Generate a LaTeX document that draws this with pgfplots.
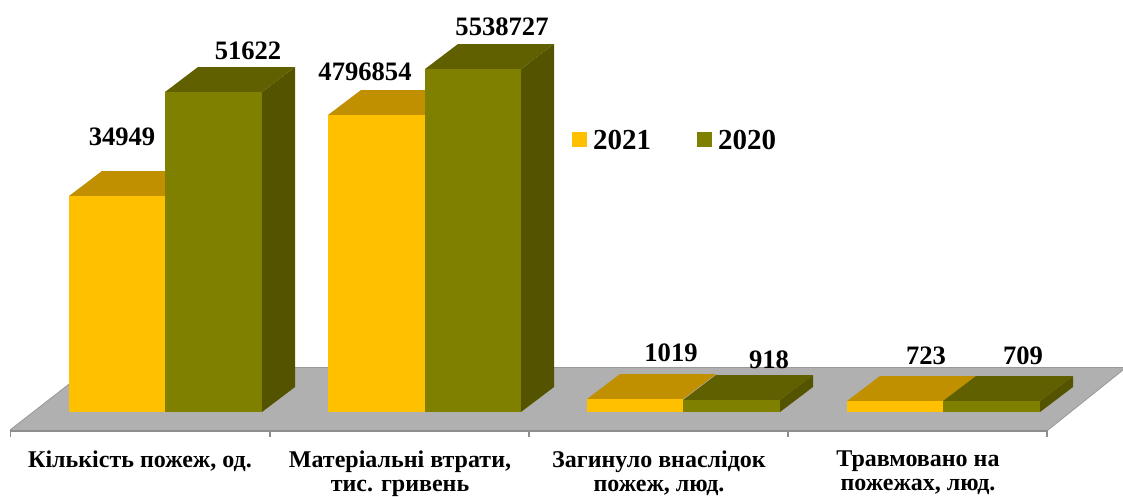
\documentclass[border=0pt]{standalone}
\usepackage{pgfplots}
\pgfplotsset{compat=1.18}
\usepackage{fontspec}
\setmainfont{Liberation Serif}
\definecolor{yfront}{HTML}{FFC000}
\definecolor{ytop}{HTML}{C09000}
\definecolor{ofront}{HTML}{808000}
\definecolor{otop}{HTML}{606000}
\definecolor{oside}{HTML}{545400}
\definecolor{floorc}{HTML}{B0B0B0}
\definecolor{axisc}{HTML}{8E8E8E}
\newcommand\face[2]{\addplot[fill=#1,draw=none,forget plot] coordinates {#2} --cycle;}
\begin{document}
\begin{tikzpicture}
\begin{axis}[
  scale only axis, width=1123pt, height=496pt,
  xmin=0, xmax=1123, ymin=0, ymax=496, y dir=reverse,
  hide axis, clip=true]
\path (axis cs:0,0) rectangle (axis cs:1123,496);
% floor
\face{floorc}{(10,430) (91,367) (1123,367) (1123,370) (1048,430)}
\addplot[draw=axisc,line width=2pt,forget plot] coordinates {(10,430.5) (1048,430.5)};
\addplot[draw=axisc!70!floorc,line width=0.8pt,forget plot] coordinates {(10,430) (91,367)};
\addplot[draw=axisc!70!floorc,line width=0.8pt,forget plot] coordinates {(1048,430) (1123,370)};
\addplot[draw=axisc!70!floorc,line width=0.8pt,forget plot] coordinates {(91,367) (1123,367)};
\addplot[draw=axisc,line width=1.2pt,forget plot] coordinates {(10.5,430) (10.5,437)};
\addplot[draw=axisc,line width=1.2pt,forget plot] coordinates {(270,430) (270,437)};
\addplot[draw=axisc,line width=1.2pt,forget plot] coordinates {(529,430) (529,437)};
\addplot[draw=axisc,line width=1.2pt,forget plot] coordinates {(788,430) (788,437)};
\addplot[draw=axisc,line width=1.2pt,forget plot] coordinates {(1047,430) (1047,437)};
% group 1
\face{ytop}{(69,196) (102,171) (198,171) (165,196)}
\face{yfront}{(69,412) (69,196) (165,196) (165,412)}
\face{oside}{(262,412) (262,92) (295,67) (295,387)}
\face{otop}{(165,92) (198,67) (295,67) (262,92)}
\face{ofront}{(165,412) (165,92) (262,92) (262,412)}
% group 2
\face{ytop}{(328,115) (361,90) (458,90) (425,115)}
\face{yfront}{(328,412) (328,115) (425,115) (425,412)}
\face{oside}{(521,412) (521,69) (554,44) (554,387)}
\face{otop}{(425,69) (458,44) (554,44) (521,69)}
\face{ofront}{(425,412) (425,69) (521,69) (521,412)}
% group 3
\face{ytop}{(587,399) (620,374) (716,374) (683,399)}
\face{yfront}{(587,412) (587,399) (683,399) (683,412)}
\face{oside}{(780,412) (780,400) (813,375) (813,387)}
\face{otop}{(683,400) (716,375) (813,375) (780,400)}
\face{ofront}{(683,412) (683,400) (780,400) (780,412)}
% group 4
\face{ytop}{(847,401) (880,376) (976,376) (943,401)}
\face{yfront}{(847,412) (847,401) (943,401) (943,412)}
\face{oside}{(1040,412) (1040,401) (1073,376) (1073,387)}
\face{otop}{(943,401) (976,376) (1073,376) (1040,401)}
\face{ofront}{(943,412) (943,401) (1040,401) (1040,412)}
% legend keys
\face{yfront}{(572,132) (587,132) (587,147) (572,147)}
\face{ofront}{(697,132) (712,132) (712,147) (697,147)}
% text
\tikzset{v/.style={font=\fontsize{26.6}{26}\selectfont\bfseries,inner sep=0pt,anchor=center},
 c/.style={font=\fontsize{24}{24}\selectfont\bfseries,inner sep=0pt,anchor=north,align=center},
 l/.style={font=\fontsize{29}{29}\selectfont\bfseries,inner sep=0pt,anchor=west}}
\node[v] at (axis cs:122,137) {34949};
\node[v] at (axis cs:248,51) {51622};
\node[v] at (axis cs:365,72) {4796854};
\node[v] at (axis cs:502,27) {5538727};
\node[v] at (axis cs:671,353) {1019};
\node[v] at (axis cs:769,360) {918};
\node[v] at (axis cs:926,356) {723};
\node[v] at (axis cs:1023,356) {709};
\node[l] at (axis cs:593,140) {2021};
\node[l] at (axis cs:718,140) {2020};
\node[c] at (axis cs:140,451) {Кількість пожеж, од.};
\node[c] at (axis cs:400,451) {Матеріальні втрати,\\тис. гривень};
\node[c] at (axis cs:659,451) {Загинуло внаслідок\\пожеж, люд.};
\node[c] at (axis cs:918,451) {Травмовано на\\пожежах, люд.};
\end{axis}
\end{tikzpicture}
\end{document}
